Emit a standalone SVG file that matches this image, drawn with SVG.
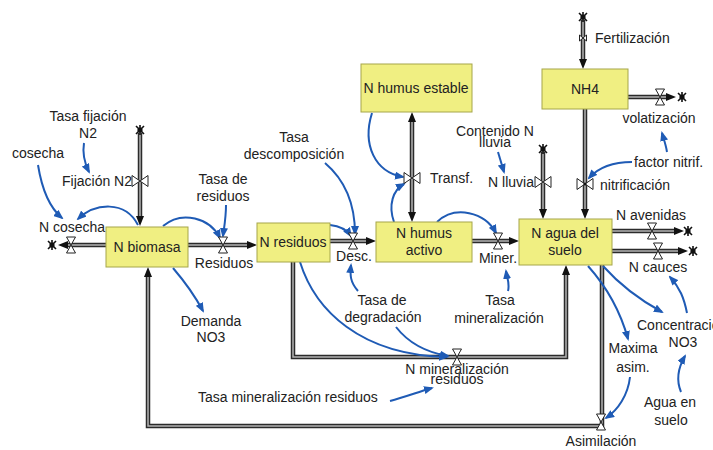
<svg xmlns="http://www.w3.org/2000/svg" width="713" height="450" viewBox="0 0 713 450">
<style>
text{font-family:"Liberation Sans",Arial,sans-serif;font-size:14px;fill:#222}
.m{text-anchor:middle}
.e{text-anchor:end}
.stock{fill:#f0ef82;stroke:#a6a64a;stroke-width:1}
.po{fill:none;stroke:#2b2b2b;stroke-width:4.5}
.pi{fill:none;stroke:#b4b4b4;stroke-width:1.5;marker-end:url(#pa)}
.pib{fill:none;stroke:#b4b4b4;stroke-width:1.5;marker-start:url(#pa);marker-end:url(#pa)}
.pn{fill:none;stroke:#b4b4b4;stroke-width:1.5}
.ln{fill:none;stroke:#1f5bb5;stroke-width:2;marker-end:url(#ba)}
.vv{fill:#fff;stroke:#222;stroke-width:1}
</style>
<defs>
<marker id="pa" markerUnits="userSpaceOnUse" viewBox="0 0 10 8" markerWidth="10" markerHeight="8" refX="2" refY="4" orient="auto-start-reverse"><path d="M0,0 L10,4 L0,8 z" fill="#111"/></marker>
<marker id="ba" markerUnits="userSpaceOnUse" viewBox="0 0 10 8" markerWidth="10" markerHeight="8" refX="8" refY="4" orient="auto"><path d="M0,0 L10,4 L0,8 z" fill="#1f5bb5"/></marker>
<g id="cloud"><path d="M-4,-4 L4,4 M4,-4 L-4,4 M0,-5 L0,5" stroke="#111" stroke-width="1.6"/><circle r="2.6" fill="#111"/></g>
<g id="valveV"><path class="vv" d="M-4.5,-8 L4.5,-8 L0,0 Z M-4.5,8 L4.5,8 L0,0 Z"/></g>
<g id="valveH"><path class="vv" d="M-8,-5.5 L-8,5.5 L0,0 Z M8,-5.5 L8,5.5 L0,0 Z"/></g>
</defs>
<rect width="713" height="450" fill="#fff"/>

<g id="connectors">
 <g id="pipes">
  <path class="po" d="M106,245 L66,245"/><path class="pi" d="M106,245 L66,245"/>
  <path class="po" d="M140,133 L140,218"/><path class="pi" d="M140,133 L140,218"/>
  <path class="po" d="M188,245 L249,245"/><path class="pi" d="M188,245 L249,245"/>
  <path class="po" d="M330,241 L368,241"/><path class="pi" d="M330,241 L368,241"/>
  <path class="po" d="M472,241 L511,241"/><path class="pi" d="M472,241 L511,241"/>
  <path class="po" d="M412,120 L412,214"/><path class="pib" d="M412,120 L412,214"/>
  <path class="po" d="M543,152 L543,211"/><path class="pi" d="M543,152 L543,211"/>
  <path class="po" d="M585,109 L585,211"/><path class="pi" d="M585,109 L585,211"/>
  <path class="po" d="M583,20 L583,61"/><path class="pi" d="M583,20 L583,61"/>
  <path class="po" d="M628,97 L668,97"/><path class="pi" d="M628,97 L668,97"/>
  <path class="po" d="M612,231 L676,231"/><path class="pi" d="M612,231 L676,231"/>
  <path class="po" d="M612,251 L680,251"/><path class="pi" d="M612,251 L680,251"/>
  <path class="po" d="M293,262 L293,357 L566,357 L566,273"/><path class="pi" d="M293,262 L293,357 L566,357 L566,273"/>
  <path class="po" d="M602,265 L602,426 L148,426 L148,275"/><path class="pi" d="M602,265 L602,426 L148,426 L148,275"/>
  <use href="#cloud" x="52" y="245"/>
  <use href="#cloud" x="140" y="130"/>
  <use href="#cloud" x="543" y="149"/>
  <use href="#cloud" x="583" y="17"/>
  <use href="#cloud" x="682" y="97"/>
  <use href="#cloud" x="688" y="231"/>
  <use href="#cloud" x="693" y="251"/>
 </g>
 <g id="links">
  <path class="ln" d="M38,165 C42,190 50,208 62,218"/>
  <path class="ln" d="M84,143 C82,155 85,164 89,172"/>
  <path class="ln" d="M138,225 C125,200 95,203 78,219"/>
  <path class="ln" d="M226,205 C226,218 224,228 223,236"/>
  <path class="ln" d="M163,226 C182,210 210,218 220,238"/>
  <path class="ln" d="M173,268 C185,282 195,296 203,311"/>
  <path class="ln" d="M325,163 C345,180 355,205 355,234"/>
  <path class="ln" d="M330,225 C340,226 347,230 351,236"/>
  <path class="ln" d="M358,291 C350,282 350,275 351,265"/>
  <path class="ln" d="M396,327 C410,345 430,353 448,356"/>
  <path class="ln" d="M300,262 C315,310 360,355 447,357"/>
  <path class="ln" d="M390,401 C405,397 418,392 432,388"/>
  <path class="ln" d="M508,291 C510,283 507,278 506,271"/>
  <path class="ln" d="M437,222 C455,205 485,212 496,233"/>
  <path class="ln" d="M372,113 C362,145 375,172 403,177"/>
  <path class="ln" d="M394,222 C388,205 393,190 404,184"/>
  <path class="ln" d="M498,152 L504,172"/>
  <path class="ln" d="M632,162 C612,162 598,168 589,178"/>
  <path class="ln" d="M667,152 C666,145 664,140 662,133"/>
  <path class="ln" d="M603,266 C620,285 640,300 662,312"/>
  <path class="ln" d="M687,313 C684,298 680,288 670,277"/>
  <path class="ln" d="M681,392 C676,380 678,368 685,356"/>
  <path class="ln" d="M588,266 C605,285 620,310 628,339"/>
  <path class="ln" d="M630,377 C628,395 618,410 606,418"/>
 </g>
</g>

<g id="n-biomasa"><rect class="stock" x="106" y="227" width="82" height="40"/><text class="m" x="147" y="252">N biomasa</text></g>
<g id="n-residuos"><rect class="stock" x="257" y="223" width="73" height="39"/><text class="m" x="293" y="247">N residuos</text></g>
<g id="n-humus-activo"><rect class="stock" x="376" y="222" width="96" height="40"/><text class="m" x="424" y="238">N humus</text><text class="m" x="424" y="255">activo</text></g>
<g id="n-agua-suelo"><rect class="stock" x="519" y="219" width="93" height="46"/><text class="m" x="565" y="238">N agua del</text><text class="m" x="565" y="255">suelo</text></g>
<g id="n-humus-estable"><rect class="stock" x="361" y="64" width="111" height="48"/><text class="m" x="416" y="93">N humus estable</text></g>
<g id="nh4"><rect class="stock" x="542" y="69" width="86" height="40"/><text class="m" x="585" y="94">NH4</text></g>

<g id="f-cosecha"><use href="#valveV" x="71" y="245"/><text class="m" x="72" y="232">N cosecha</text></g>
<g id="f-fijacion"><use href="#valveH" x="140" y="181"/><text class="e" x="132" y="186">Fijación N2</text></g>
<g id="f-residuos"><use href="#valveV" x="223" y="245"/><text class="m" x="224" y="268">Residuos</text></g>
<g id="f-desc"><use href="#valveV" x="353" y="241"/><text class="m" x="354" y="261">Desc.</text></g>
<g id="f-miner"><use href="#valveV" x="498" y="241"/><text class="m" x="498" y="263">Miner.</text></g>
<g id="f-transf"><use href="#valveH" x="412" y="178"/><text x="430" y="183">Transf.</text></g>
<g id="f-lluvia"><use href="#valveH" x="543" y="182"/><text class="e" x="534" y="187">N lluvia</text></g>
<g id="f-nitrificacion"><use href="#valveH" x="585" y="184"/><circle cx="585" cy="184" r="1.6" fill="#111"/><text x="600" y="190">nitrificación</text></g>
<g id="f-fertilizacion"><path class="vv" d="M579.5,35 L579.5,41 L583,38 Z M586.5,35 L586.5,41 L583,38 Z"/><text x="595" y="43">Fertilización</text></g>
<g id="f-volatizacion"><use href="#valveV" x="660" y="97"/><text class="m" x="659" y="123">volatización</text></g>
<g id="f-avenidas"><use href="#valveV" x="652" y="231"/><text class="m" x="651" y="220">N avenidas</text></g>
<g id="f-cauces"><use href="#valveV" x="658" y="251"/><text class="m" x="658" y="272">N cauces</text></g>
<g id="f-min-residuos"><use href="#valveV" x="457" y="357"/><text class="m" x="457" y="374">N mineralización</text><text class="m" x="457" y="384">residuos</text></g>
<g id="f-asimilacion"><use href="#valveV" x="601" y="422"/><text class="m" x="601" y="446">Asimilación</text></g>

<g id="a-tasa-fijacion"><text class="m" x="88" y="121">Tasa fijación</text><text class="m" x="88" y="138">N2</text></g>
<g id="a-cosecha"><text class="m" x="38" y="158">cosecha</text></g>
<g id="a-tasa-residuos"><text class="m" x="223" y="184">Tasa de</text><text class="m" x="223" y="201">residuos</text></g>
<g id="a-demanda"><text class="m" x="211" y="326">Demanda</text><text class="m" x="211" y="342">NO3</text></g>
<g id="a-tasa-desc"><text class="m" x="294" y="142">Tasa</text><text class="m" x="294" y="159">descomposición</text></g>
<g id="a-tasa-degr"><text class="m" x="382" y="305">Tasa de</text><text class="m" x="383" y="322">degradación</text></g>
<g id="a-tasa-min"><text class="m" x="500" y="305">Tasa</text><text class="m" x="499" y="323">mineralización</text></g>
<g id="a-tasa-min-res"><text x="198" y="402">Tasa mineralización residuos</text></g>
<g id="a-contenido"><text class="m" x="495" y="136">Contenido N</text><text class="m" x="495" y="147">lluvia</text></g>
<g id="a-factor"><text x="634" y="167">factor nitrif.</text></g>
<g id="a-concentracion"><text x="637" y="330">Concentración</text><text class="m" x="683" y="347">NO3</text></g>
<g id="a-agua-suelo"><text class="m" x="670" y="407">Agua en</text><text class="m" x="671" y="425">suelo</text></g>
<g id="a-maxima"><text class="m" x="633" y="353">Maxima</text><text class="m" x="633" y="372">asim.</text></g>
</svg>
